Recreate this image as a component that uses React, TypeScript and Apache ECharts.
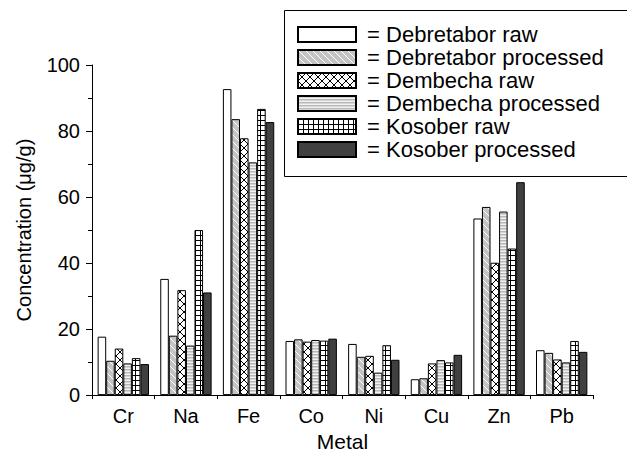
import React, { useEffect, useRef } from "react";
import * as echarts from "echarts";

const categories = ["Cr", "Na", "Fe", "Co", "Ni", "Cu", "Zn", "Pb"];
const seriesNames = [
  "Debretabor raw",
  "Debretabor processed",
  "Dembecha raw",
  "Dembecha processed",
  "Kosober raw",
  "Kosober processed",
];
const debretaborRaw = [17.7, 35.2, 92.7, 16.4, 15.5, 4.8, 53.5, 13.6];
const debretaborProcessed = [10.4, 18.0, 83.6, 16.9, 11.6, 5.1, 57.0, 12.8];
const dembechaRaw = [14.1, 31.8, 77.8, 16.2, 11.9, 9.6, 40.1, 10.8];
const dembechaProcessed = [9.6, 15.0, 70.5, 16.7, 6.8, 10.6, 55.6, 9.9];
const kosoberRaw = [11.2, 50.0, 86.7, 16.5, 15.1, 9.9, 44.4, 16.4];
const kosoberProcessed = [9.4, 31.1, 82.7, 17.1, 10.7, 12.2, 64.5, 13.1];
const yTicks = [0, 20, 40, 60, 80, 100];

const FONT = "'Liberation Sans', Arial, Helvetica, sans-serif";

function makeTile(w: number, h: number, draw: (c: CanvasRenderingContext2D) => void) {
  const cv = document.createElement("canvas");
  cv.width = w;
  cv.height = h;
  const ctx = cv.getContext("2d")!;
  draw(ctx);
  return { image: cv, repeat: "repeat" } as any;
}

function patterns() {
  const white = "#ffffff";
  const diag = makeTile(7, 7, (c) => {
    c.fillStyle = "#c4c4c4";
    c.fillRect(0, 0, 7, 7);
    c.strokeStyle = "#ffffff";
    c.lineWidth = 1;
    c.beginPath();
    for (let k = -7; k <= 7; k += 7) {
      c.moveTo(k, 0);
      c.lineTo(k + 7, 7);
    }
    c.stroke();
  });
  const cross = makeTile(8, 8, (c) => {
    c.fillStyle = "#ffffff";
    c.fillRect(0, 0, 8, 8);
    c.strokeStyle = "#000000";
    c.lineWidth = 1;
    c.beginPath();
    c.moveTo(0, 0);
    c.lineTo(8, 8);
    c.moveTo(8, 0);
    c.lineTo(0, 8);
    c.stroke();
  });
  const horiz = makeTile(4, 3, (c) => {
    c.fillStyle = "#f2f2f2";
    c.fillRect(0, 0, 4, 3);
    c.fillStyle = "#b8b8b8";
    c.fillRect(0, 0, 4, 1.5);
  });
  const grid = makeTile(5, 5, (c) => {
    c.fillStyle = "#ffffff";
    c.fillRect(0, 0, 5, 5);
    c.fillStyle = "#000000";
    c.fillRect(0, 0, 5, 1);
    c.fillRect(0, 0, 1, 5);
  });
  return [white, diag, cross, horiz, grid, "#404040"];
}

export default function App() {
  const ref = useRef<HTMLDivElement>(null);
  useEffect(() => {
    if (!ref.current) return;
    const chart = echarts.init(ref.current, undefined, { renderer: "svg" });
    const fills = patterns();
    const values = [
      debretaborRaw,
      debretaborProcessed,
      dembechaRaw,
      dembechaProcessed,
      kosoberRaw,
      kosoberProcessed,
    ];
    const series = seriesNames.map((name, i) => ({
      name,
      type: "bar",
      xAxisIndex: 0,
      data: values[i],
      barGap: "0%",
      barCategoryGap: "18%",
      itemStyle: { color: fills[i], borderColor: "#000", borderWidth: 1 },
      emphasis: { disabled: true },
    }));
    chart.setOption({
      animation: false,
      backgroundColor: "#ffffff",
      textStyle: { fontFamily: FONT },
      grid: { left: 92, right: 34, top: 65, bottom: 59, containLabel: false },
      xAxis: [
        {
          type: "category",
          data: categories,
          boundaryGap: true,
          position: "bottom",
          name: "Metal",
          nameLocation: "middle",
          nameGap: 34,
          nameTextStyle: { fontSize: 21, color: "#000", fontFamily: FONT },
          axisLine: { lineStyle: { color: "#000", width: 1 } },
          axisTick: { alignWithLabel: true, inside: false, length: 6, lineStyle: { color: "#000" } },
          axisLabel: { fontSize: 20, color: "#000", margin: 11, fontFamily: FONT },
          splitLine: { show: false },
        },
        {
          type: "category",
          data: categories,
          boundaryGap: true,
          position: "bottom",
          axisLine: { show: false },
          axisTick: { show: true, inside: false, length: 4, lineStyle: { color: "#000" } },
          axisLabel: { show: false },
          splitLine: { show: false },
        },
      ],
      yAxis: {
        type: "value",
        min: 0,
        max: 100,
        interval: 20,
        name: "Concentration (μg/g)",
        nameLocation: "middle",
        nameGap: 58,
        nameRotate: 90,
        nameTextStyle: { fontSize: 20, color: "#000", fontFamily: FONT },
        axisLine: { show: true, lineStyle: { color: "#000", width: 1 } },
        axisTick: { show: true, inside: false, length: 6, lineStyle: { color: "#000" } },
        minorTick: { show: true, splitNumber: 2, length: 4, lineStyle: { color: "#000" } },
        axisLabel: {
          fontSize: 20,
          color: "#000",
          margin: 12,
          fontFamily: FONT,
          formatter: (v: number) => (yTicks.includes(v) ? String(v) : ""),
        },
        splitLine: { show: false },
      },
      legend: {
        show: true,
        orient: "vertical",
        left: 292,
        top: 18.5,
        padding: 5,
        itemWidth: 58,
        itemHeight: 15,
        itemGap: 1,
        icon: "rect",
        selectedMode: false,
        formatter: (n: string) => " = " + n,
        textStyle: { fontSize: 22, color: "#000", fontFamily: FONT },
        data: seriesNames,
      },
      graphic: [
        {
          type: "rect",
          z: 3,
          shape: { x: 284.5, y: 10.5, width: 400, height: 166 },
          style: { fill: "#fff", stroke: "#000", lineWidth: 1 },
        },
      ],
      series,
    });
    return () => chart.dispose();
  }, []);
  return (
    <div
      ref={ref}
      style={{ position: "absolute", left: 0, top: 0, width: 627, height: 457 }}
    />
  );
}
